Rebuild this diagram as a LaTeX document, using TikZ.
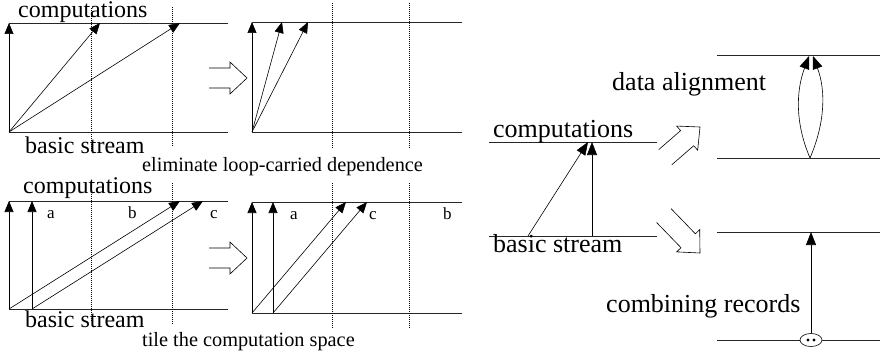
\documentclass[tikz,border=0pt]{standalone}
\usepackage{fontspec}
\setmainfont{Liberation Serif}
\usetikzlibrary{arrows.meta,shapes.geometric,positioning,calc}

\tikzset{
  stream/.style={line width=0.6pt, black!85},
  dep/.style={line width=0.6pt, -{Triangle[length=11pt,width=9pt]}},
  bigdep/.style={line width=0.6pt, -{Triangle[length=13pt,width=10pt]}},
  cut/.style={line width=0.9pt, dash pattern=on 1pt off 1pt},
  bigtext/.style={font=\fontsize{24}{28}\selectfont, inner sep=0pt, anchor=base west},
  hugetext/.style={font=\fontsize{26}{30}\selectfont, inner sep=0pt, anchor=base west},
  smalltext/.style={font=\fontsize{20.3}{24}\selectfont, inner sep=0pt, anchor=base west},
  tilelabel/.style={font=\fontsize{17}{20}\selectfont, inner sep=0pt, anchor=base west},
  pics/hollowarrow/.style={code={
    \draw[line width=0.6pt] (-#1,-10) -- (-17,-10) -- (-17,-16) -- (0,0) -- (-17,16) -- (-17,10) -- (-#1,10);
  }}
}

\begin{document}
\begin{tikzpicture}[x=1pt, y=-1pt]
  \useasboundingbox (0,0) rectangle (881,353);

  % Loop-carried dependence (before)
  \coordinate (tl-tw) at (9,23);   \coordinate (tl-te) at (228,23);
  \coordinate (tl-bw) at (9,132);  \coordinate (tl-be) at (228,132);
  \draw[stream] (tl-tw) -- (tl-te);
  \draw[stream] (tl-bw) -- (tl-be);
  \foreach \x/\n in {9/1, 100/2, 180/3} {
    \coordinate (tl-h\n) at (\x,23);
    \draw[dep] (tl-bw) -- (tl-h\n);
  }
  \foreach \x/\ya/\yb in {91/8/152, 172/7/147}
    \draw[cut] (\x,\ya) -- (\x,\yb);
  \node[bigtext] (tl-comp) at (18,18) {computations};
  \node[bigtext] (tl-base) at (25,153) {basic stream};
  \node[smalltext] (tl-cap) at (142,171) {eliminate loop-carried dependence};

  \pic at (247,78) {hollowarrow=38};

  % Loop-carried dependence (after)
  \coordinate (tm-tw) at (252,22);  \coordinate (tm-te) at (462,22);
  \coordinate (tm-bw) at (252,132); \coordinate (tm-be) at (462,132);
  \draw[stream] (tm-tw) -- (tm-te);
  \draw[stream] (tm-bw) -- (tm-be);
  \foreach \x/\n in {252/1, 282/2, 308/3} {
    \coordinate (tm-h\n) at (\x,22);
    \draw[dep] (tm-bw) -- (tm-h\n);
  }
  \foreach \x in {332, 409}
    \draw[cut] (\x,3) -- (\x,148);

  % Tiling (before)
  \coordinate (bl-tw) at (9,201);   \coordinate (bl-te) at (228,201);
  \coordinate (bl-bw) at (9,309);   \coordinate (bl-be) at (228,309);
  \coordinate (bl-b2) at (32,309);
  \draw[stream] (bl-tw) -- (bl-te);
  \draw[stream] (bl-bw) -- (bl-be);
  \coordinate (bl-h1) at (9,201);   \coordinate (bl-h2) at (32,201);
  \coordinate (bl-h3) at (180,201); \coordinate (bl-h4) at (203,201);
  \draw[dep] (bl-bw) -- (bl-h1);
  \draw[dep] (bl-b2) -- (bl-h2);
  \draw[dep] (bl-bw) -- (bl-h3);
  \draw[dep] (bl-b2) -- (bl-h4);
  \foreach \x/\ya/\yb in {91/188/322, 172/183/325}
    \draw[cut] (\x,\ya) -- (\x,\yb);
  \foreach \x/\t in {47/a, 128/b, 210/c}
    \node[tilelabel] (bl-\t) at (\x,218) {\t};
  \node[bigtext] (bl-comp) at (23,193) {computations};
  \node[bigtext] (bl-base) at (25,327) {basic stream};
  \node[smalltext] (bl-cap) at (142,346) {tile the computation space};

  \pic at (247,258) {hollowarrow=38};

  % Tiling (after)
  \coordinate (bm-tw) at (252,202); \coordinate (bm-te) at (462,202);
  \coordinate (bm-bw) at (252,313); \coordinate (bm-be) at (462,313);
  \coordinate (bm-b2) at (273,313);
  \draw[stream] (bm-tw) -- (bm-te);
  \draw[stream] (bm-bw) -- (bm-be);
  \coordinate (bm-h1) at (252,202); \coordinate (bm-h2) at (273,202);
  \coordinate (bm-h3) at (346,202); \coordinate (bm-h4) at (367,202);
  \draw[dep] (bm-bw) -- (bm-h1);
  \draw[dep] (bm-b2) -- (bm-h2);
  \draw[dep] (bm-bw) -- (bm-h3);
  \draw[dep] (bm-b2) -- (bm-h4);
  \foreach \x in {332, 409}
    \draw[cut] (\x,183) -- (\x,329);
  \foreach \x/\t in {290/a, 369/c, 443/b}
    \node[tilelabel] (bm-\t) at (\x,219) {\t};

  % Single step
  \coordinate (rm-tw) at (489,142); \coordinate (rm-te) at (657,142);
  \coordinate (rm-bw) at (489,236); \coordinate (rm-be) at (657,236);
  \draw[stream] (rm-tw) -- (rm-te);
  \draw[stream] (rm-bw) -- (rm-be);
  \coordinate (rm-s1) at (528,236); \coordinate (rm-s2) at (592,236);
  \coordinate (rm-h1) at (588,142); \coordinate (rm-h2) at (592,142);
  \draw[bigdep] (rm-s1) -- (rm-h1);
  \draw[bigdep] (rm-s2) -- (rm-h2);
  \node[hugetext] (rm-comp) at (493,137) {computations};
  \node[hugetext] (rm-base) at (493,252) {basic stream};

  \pic[rotate=41] at (700,127) {hollowarrow=46};
  \pic[rotate=-46] at (700,253) {hollowarrow=52};

  % Data alignment
  \coordinate (rt-tw) at (717,55);  \coordinate (rt-te) at (880,55);
  \coordinate (rt-bw) at (717,158); \coordinate (rt-be) at (880,158);
  \draw[stream] (rt-tw) -- (rt-te);
  \draw[stream] (rt-bw) -- (rt-be);
  \coordinate (al-s) at (810,158);
  \coordinate (al-l) at (809,56);   \coordinate (al-r) at (813,56);
  \draw[bigdep] (al-s) .. controls +(-15,-35) and +(-13,35) .. (al-l);
  \draw[bigdep] (al-s) .. controls +(15,-35) and +(13,35) .. (al-r);
  \node[hugetext] (rt-text) at (612,90) {data alignment};

  % Combining records
  \coordinate (rb-tw) at (717,232); \coordinate (rb-te) at (880,232);
  \coordinate (rb-bw) at (717,340); \coordinate (rb-be) at (880,340);
  \draw[stream] (rb-tw) -- (rb-te);
  \draw[stream] (rb-bw) -- (rb-be);
  \node[ellipse, draw, fill=white, line width=0.6pt, minimum width=22pt, minimum height=13pt, inner sep=0pt] (rec) at (811,340) {};
  \fill ($(rec.center)+(-3,0)$) circle (1.7pt);
  \fill ($(rec.center)+(3,0)$) circle (1.7pt);
  \coordinate (rb-h) at (811,232);
  \draw[bigdep] (rec.north) -- (rb-h);
  \node[hugetext] (rb-text) at (606,312) {combining records};
\end{tikzpicture}
\end{document}
